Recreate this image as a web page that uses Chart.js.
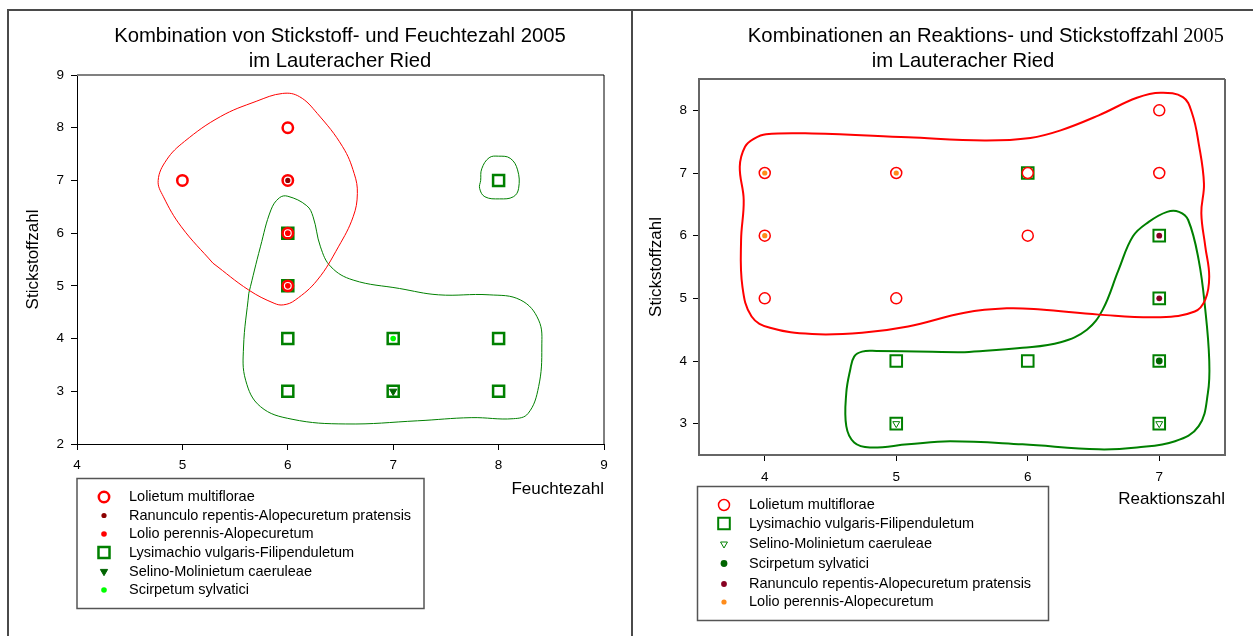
<!DOCTYPE html>
<html>
<head>
<meta charset="utf-8">
<script src="https://cdn.jsdelivr.net/npm/chart.js@4.4.1/dist/chart.umd.min.js"></script>
<style>
  body { margin: 0; background: #fff; }
  #page { position: relative; width: 1253px; height: 636px; overflow: hidden; background: #fff;
          font-family: "Liberation Sans", Arial, sans-serif; color: #000; }
  canvas { position: absolute; top: 0; }
  .rule { position: absolute; background: #4a4a4a; }
  .title { position: absolute; top: 23px; text-align: center; font-size: 20.3px; line-height: 24.5px; white-space: nowrap; }
  .l1 { position: relative; display: inline-block; }
  .yr { position: absolute; left: 100%; top: 0; font-family: "Liberation Serif", "Times New Roman", serif; }
</style>
</head>
<body>
<div id="page">
  <canvas id="leftChart" width="632" height="636" style="left:0"></canvas>
  <canvas id="rightChart" width="621" height="636" style="left:632px"></canvas>

  <div class="rule" style="left:7px;top:9px;width:1246px;height:2px"></div>
  <div class="rule" style="left:7px;top:9px;width:2px;height:627px"></div>
  <div class="rule" style="left:631px;top:9px;width:2px;height:627px"></div>

  <div class="title" style="left:0;width:680px">
    Kombination von Stickstoff- und Feuchtezahl 2005<br>im Lauteracher Ried
  </div>
  <div class="title" style="left:630px;width:666px">
    <span class="l1">Kombinationen an Reaktions- und Stickstoffzahl<span class="yr">&nbsp;2005</span></span><br>im Lauteracher Ried
  </div>
</div>

<script>
// ---- left chart: Feuchtezahl (x) / Stickstoffzahl (y)
const leftXTicks = [4, 5, 6, 7, 8, 9];
const leftYTicks = [2, 3, 4, 5, 6, 7, 8, 9];
const leftLolietum = [[5, 7], [6, 8], [6, 7], [6, 6], [6, 5]];
const leftRanunculo = [[6, 7]];
const leftLolio = [[6, 6], [6, 5]];
const leftLysimachio = [[6, 6], [6, 5], [6, 4], [6, 3], [7, 4], [7, 3], [8, 4], [8, 3], [8, 7]];
const leftSelino = [[7, 3]];
const leftScirpetum = [[7, 4]];
// hand drawn hulls
const leftRedHull = [[5.29, 5.43], [5.63, 4.92], [5.87, 4.67], [5.96, 4.64], [6.07, 4.73], [6.28, 5.11],
  [6.48, 5.74], [6.62, 6.31], [6.66, 6.75], [6.63, 7.13], [6.52, 7.64], [6.28, 8.27], [6.11, 8.59],
  [5.95, 8.65], [5.70, 8.50], [5.36, 8.21], [5.02, 7.74], [4.85, 7.39], [4.77, 7.0], [4.82, 6.69],
  [4.99, 6.12], [5.29, 5.43]];
const leftGreenHull = [[5.63, 4.86], [5.74, 5.74], [5.84, 6.44], [5.92, 6.67], [6.0, 6.70], [6.18, 6.52],
  [6.24, 6.31], [6.31, 5.74], [6.41, 5.36], [6.62, 5.11], [7.06, 4.95], [7.43, 4.83], [7.91, 4.83],
  [8.21, 4.73], [8.38, 4.35], [8.41, 3.84], [8.38, 3.09], [8.28, 2.58], [8.14, 2.48], [7.74, 2.5],
  [7.23, 2.44], [6.55, 2.38], [6.04, 2.47], [5.74, 2.71], [5.60, 3.21], [5.58, 3.84], [5.63, 4.86]];
const leftSmallHull = [[7.83, 7.0], [7.84, 7.22], [7.91, 7.43], [8.0, 7.46], [8.11, 7.42], [8.18, 7.20],
  [8.19, 6.85], [8.14, 6.69], [8.01, 6.65], [7.87, 6.69], [7.82, 6.85], [7.83, 7.0]];

// ---- right chart: Reaktionszahl (x) / Stickstoffzahl (y)
const rightXTicks = [4, 5, 6, 7];
const rightYTicks = [3, 4, 5, 6, 7, 8];
const rightLolietum = [[4, 7], [5, 7], [6, 7], [7, 7], [4, 6], [6, 6], [4, 5], [5, 5], [7, 8]];
const rightLysimachio = [[6, 7], [7, 6], [7, 5], [5, 4], [6, 4], [7, 4], [5, 3], [7, 3]];
const rightSelino = [[5, 3], [7, 3]];
const rightScirpetum = [[7, 4]];
const rightRanunculo = [[7, 6], [7, 5]];
const rightLolio = [[4, 7], [5, 7], [4, 6]];
const rightRedHull = [[5.09, 7.57], [5.67, 7.52], [6.02, 7.56], [6.25, 7.68], [6.54, 7.92], [6.83, 8.20],
  [7.01, 8.28], [7.18, 8.21], [7.25, 7.95], [7.30, 7.47], [7.34, 6.83], [7.32, 6.36], [7.35, 5.83],
  [7.38, 5.35], [7.35, 4.98], [7.27, 4.79], [7.01, 4.70], [6.54, 4.74], [6.10, 4.82], [5.84, 4.84],
  [5.52, 4.77], [5.09, 4.55], [4.74, 4.45], [4.36, 4.43], [4.04, 4.53], [3.90, 4.71], [3.83, 5.19],
  [3.82, 5.93], [3.84, 6.57], [3.81, 7.10], [3.85, 7.42], [3.92, 7.55], [4.01, 7.62], [4.36, 7.63],
  [5.09, 7.57]];
const rightGreenHull = [[5.52, 4.14], [5.96, 4.21], [6.25, 4.30], [6.45, 4.50], [6.57, 4.82], [6.69, 5.45],
  [6.80, 5.99], [6.92, 6.22], [7.06, 6.38], [7.15, 6.38], [7.22, 6.25], [7.30, 5.61], [7.35, 4.82],
  [7.38, 4.02], [7.37, 3.49], [7.30, 2.96], [7.12, 2.72], [6.83, 2.62], [6.54, 2.59], [5.96, 2.67],
  [5.41, 2.72], [5.09, 2.67], [4.80, 2.62], [4.68, 2.70], [4.62, 2.96], [4.62, 3.49], [4.65, 3.86],
  [4.68, 4.07], [4.74, 4.15], [4.85, 4.16], [5.52, 4.14]];

Chart.defaults.font.family = '"Liberation Sans", Arial, sans-serif';
Chart.defaults.color = '#000';

const xy = pts => pts.map(p => ({ x: p[0], y: p[1] }));
const fixedTicks = vals => scale => { scale.ticks = vals.map(v => ({ value: v })); };

function hull(pts, color, width) {
  return { data: xy(pts), showLine: true, borderColor: color, borderWidth: width, pointRadius: 0,
    pointHoverRadius: 0, tension: 0.4, fill: false, order: 10 };
}

function marks(label, pts, style, order) {
  return Object.assign({ label, data: xy(pts), showLine: false, order,
    pointHoverRadius: style.pointRadius, pointRotation: 0 }, style);
}

const circle = (color, r, bw) => ({ pointStyle: 'circle', pointRadius: r, pointBorderWidth: bw,
  pointBorderColor: color, pointBackgroundColor: '#fff', borderColor: color, backgroundColor: '#fff' });
const square = (color, r, bw) => ({ pointStyle: 'rect', pointRadius: r, pointBorderWidth: bw,
  pointBorderColor: color, pointBackgroundColor: 'rgba(255,255,255,0)', borderColor: color, backgroundColor: 'rgba(255,255,255,0)' });
const dot = (color, r) => ({ pointStyle: 'circle', pointRadius: r, pointBorderWidth: 0,
  pointBorderColor: color, pointBackgroundColor: color, borderColor: color, backgroundColor: color });
const triangle = (color, fillColor, r, bw) => ({ pointStyle: 'triangle', pointRadius: r, pointBorderWidth: bw,
  pointRotation: 180, pointBorderColor: color, pointBackgroundColor: fillColor, borderColor: color, backgroundColor: fillColor });

// top/right sides of the plot box
const frame = {
  id: 'frame',
  afterDraw(chart, args, opts) {
    const { ctx, chartArea: a } = chart;
    ctx.save();
    ctx.strokeStyle = opts.topColor; ctx.lineWidth = opts.topWidth;
    ctx.beginPath(); ctx.moveTo(a.left, a.top); ctx.lineTo(a.right, a.top); ctx.stroke();
    ctx.strokeStyle = opts.rightColor; ctx.lineWidth = opts.rightWidth;
    ctx.beginPath(); ctx.moveTo(a.right, a.top); ctx.lineTo(a.right, a.bottom); ctx.stroke();
    ctx.restore();
  }
};

// boxed legend under the plot
const boxLegend = {
  id: 'boxLegend',
  afterDraw(chart, args, opts) {
    const ctx = chart.ctx;
    ctx.save();
    ctx.strokeStyle = opts.borderColor; ctx.lineWidth = opts.borderWidth;
    ctx.strokeRect(opts.left, opts.top, opts.width, opts.height);
    ctx.font = opts.font; ctx.textBaseline = 'middle'; ctx.textAlign = 'left';
    let row = 0;
    chart.data.datasets.forEach(ds => {
      if (!ds.label) return;
      const y = opts.rows[row++];
      ctx.fillStyle = ds.pointBackgroundColor;
      ctx.strokeStyle = ds.pointBorderColor;
      ctx.lineWidth = ds.pointBorderWidth;
      Chart.helpers.drawPoint(ctx, { pointStyle: ds.pointStyle, radius: ds.pointRadius,
        rotation: ds.pointRotation, borderWidth: ds.pointBorderWidth }, opts.markerX, y);
      ctx.fillStyle = '#000';
      ctx.fillText(ds.label, opts.textX, y);
    });
    ctx.restore();
  }
};

function axis(o) {
  return {
    type: 'linear', min: o.min, max: o.max,
    afterBuildTicks: fixedTicks(o.ticks),
    afterFit: scale => { if (o.horizontal) scale.height = o.size; else scale.width = o.size; },
    border: { display: true, color: o.borderColor, width: o.borderWidth },
    grid: { drawOnChartArea: false, drawTicks: true, tickLength: 6, color: '#000', lineWidth: 1 },
    ticks: { font: { size: 13.5 }, padding: o.pad, color: '#000' },
    title: { display: true, text: o.title, align: o.align, font: { size: 17 }, color: '#000', padding: o.titlePad }
  };
}

new Chart(document.getElementById('leftChart'), {
  type: 'scatter',
  data: {
    datasets: [
      marks('Lolietum multiflorae', leftLolietum, circle('#ff0000', 5.2, 2.5), 4),
      marks('Ranunculo repentis-Alopecuretum pratensis', leftRanunculo, dot('#8b0000', 2.6), 1),
      marks('Lolio perennis-Alopecuretum', leftLolio, dot('#ff0000', 2.8), 1),
      marks('Lysimachio vulgaris-Filipenduletum', leftLysimachio, square('#008000', 7.8, 2.5), 5),
      marks('Selino-Molinietum caeruleae', leftSelino, triangle('#006400', '#006400', 4.2, 1), 2),
      marks('Scirpetum sylvatici', leftScirpetum, dot('#00ff00', 2.8), 1),
      hull(leftRedHull, '#ff0000', 1),
      hull(leftGreenHull, '#008000', 1),
      hull(leftSmallHull, '#008000', 1)
    ]
  },
  options: {
    responsive: false, animation: false, events: [],
    layout: { padding: { left: 15, top: 75, right: 28, bottom: 132 } },
    scales: {
      x: axis({ min: 4, max: 9, ticks: leftXTicks, horizontal: true, size: 60, pad: 7,
        borderColor: '#000', borderWidth: 1, title: 'Feuchtezahl', align: 'end', titlePad: { top: 0, bottom: 4 } }),
      y: axis({ min: 2, max: 9, ticks: leftYTicks, horizontal: false, size: 62, pad: 7,
        borderColor: '#000', borderWidth: 1, title: 'Stickstoffzahl', align: 'center', titlePad: { top: 8, bottom: 0 } })
    },
    plugins: {
      legend: { display: false }, tooltip: { enabled: false },
      frame: { topColor: '#808080', topWidth: 2, rightColor: '#000', rightWidth: 1 },
      boxLegend: { left: 77, top: 478.5, width: 347, height: 130, borderColor: '#555', borderWidth: 1.5,
        font: '14.5px "Liberation Sans", Arial, sans-serif', markerX: 104, textX: 129,
        rows: [497, 515.5, 534, 552.5, 571.5, 590] }
    }
  },
  plugins: [frame, boxLegend]
});

new Chart(document.getElementById('rightChart'), {
  type: 'scatter',
  data: {
    datasets: [
      marks('Lolietum multiflorae', rightLolietum, circle('#ff0000', 5.5, 1.5), 4),
      marks('Lysimachio vulgaris-Filipenduletum', rightLysimachio, square('#008000', 8.2, 2), 5),
      marks('Selino-Molinietum caeruleae', rightSelino, triangle('#008000', '#fff', 4, 1), 2),
      marks('Scirpetum sylvatici', rightScirpetum, dot('#006400', 3.4), 1),
      marks('Ranunculo repentis-Alopecuretum pratensis', rightRanunculo, dot('#880022', 2.9), 1),
      marks('Lolio perennis-Alopecuretum', rightLolio, dot('#ff8c1a', 2.6), 1),
      hull(rightRedHull, '#ff0000', 2),
      hull(rightGreenHull, '#008000', 2)
    ]
  },
  options: {
    responsive: false, animation: false, events: [],
    layout: { padding: { left: 12, top: 79, right: 28, bottom: 123 } },
    scales: {
      x: axis({ min: 3.5, max: 7.5, ticks: rightXTicks, horizontal: true, size: 58, pad: 8,
        borderColor: '#666', borderWidth: 2, title: 'Reaktionszahl', align: 'end', titlePad: { top: 0, bottom: 3 } }),
      y: axis({ min: 2.5, max: 8.5, ticks: rightYTicks, horizontal: false, size: 55, pad: 6,
        borderColor: '#666', borderWidth: 2, title: 'Stickstoffzahl', align: 'center', titlePad: { top: 2, bottom: 0 } })
    },
    plugins: {
      legend: { display: false }, tooltip: { enabled: false },
      frame: { topColor: '#666', topWidth: 2, rightColor: '#666', rightWidth: 2 },
      boxLegend: { left: 65.5, top: 486.5, width: 351, height: 134, borderColor: '#555', borderWidth: 1.5,
        font: '14.5px "Liberation Sans", Arial, sans-serif', markerX: 92, textX: 117,
        rows: [505, 523.5, 544, 563.5, 584, 602] }
    }
  },
  plugins: [frame, boxLegend]
});
</script>
</body>
</html>
